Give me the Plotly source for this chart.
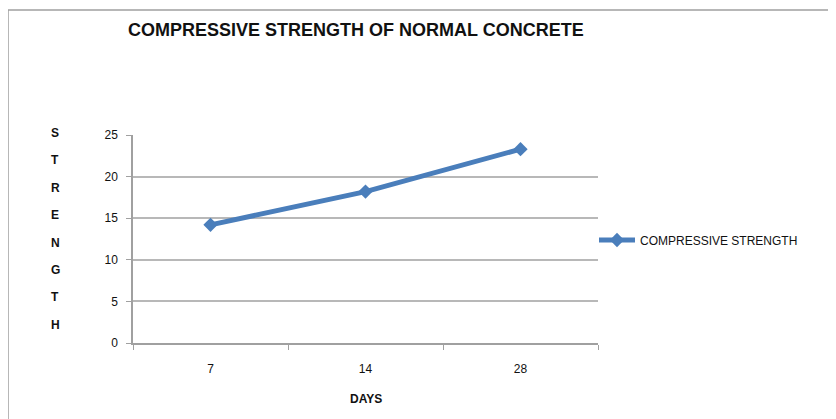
import plotly.graph_objects as go

days = ["7", "14", "28"]
strength = [14.2, 18.2, 23.3]
y_ticks = [0, 5, 10, 15, 20, 25]
series_name = "COMPRESSIVE STRENGTH"
title_text = "COMPRESSIVE STRENGTH OF NORMAL CONCRETE"
y_title = "STRENGTH"

# page body has an 8px margin, so positions below are screen px minus 8
OFF = 8
W, H = 836, 419
L, T = 133 - OFF, 135 - OFF
R, B = W - (598 - OFF), H - (343 - OFF)
pw, ph = W - L - R, H - T - B

FONT = "Liberation Sans, Arial, sans-serif"


def px_x(x):
    return (x - OFF - L) / pw


def px_y(y):
    return (H - B - (y - OFF)) / ph


fig = go.Figure()
fig.add_trace(go.Scatter(
    x=days, y=strength, name=series_name, mode="lines+markers",
    line=dict(color="#4a7ebb", width=5),
    marker=dict(symbol="diamond", size=11, color="#4a7ebb"),
))

ann = []
for i, ch in enumerate(y_title):
    ann.append(dict(
        text="<b>%s</b>" % ch, xref="paper", yref="paper",
        x=px_x(55), y=px_y(133 + i * 27.4),
        showarrow=False, xanchor="center", yanchor="middle",
        font=dict(family=FONT, size=12, color="#111"),
    ))
ann.append(dict(
    text="<b>DAYS</b>", xref="paper", yref="paper",
    x=px_x(366), y=px_y(399),
    showarrow=False, xanchor="center", yanchor="middle",
    font=dict(family=FONT, size=12, color="#111"),
))
ann.append(dict(
    text="<b>" + title_text + "</b>", xref="paper", yref="paper",
    x=px_x(356), y=px_y(30),
    showarrow=False, xanchor="center", yanchor="middle",
    font=dict(family=FONT, size=18, color="#111"),
))

fig.update_layout(
    width=W, height=H,
    margin=dict(l=L, r=R, t=T, b=B),
    paper_bgcolor="white", plot_bgcolor="white",
    showlegend=True,
    legend=dict(x=px_x(594), xanchor="left", y=px_y(240), yanchor="middle",
                font=dict(family=FONT, size=12, color="#111"),
                bgcolor="rgba(0,0,0,0)", itemwidth=36),
    annotations=ann,
    shapes=[dict(type="rect", xref="paper", yref="paper",
                 x0=px_x(8), x1=px_x(W + 30),
                 y0=px_y(H + 30), y1=px_y(10),
                 line=dict(color="#a0a0a0", width=1.5), layer="below")],
)
fig.update_xaxes(
    type="category", range=[-0.5, 2.5], tickson="boundaries",
    ticks="outside", ticklen=5, tickcolor="#a0a0a0",
    showline=True, linecolor="#a0a0a0", linewidth=1.5, showgrid=False,
    ticklabelstandoff=14,
    tickfont=dict(family=FONT, size=12, color="#111"),
)
fig.update_yaxes(
    range=[0, 25], tickvals=y_ticks, ticks="outside", ticklen=5, tickcolor="#a0a0a0",
    showline=True, linecolor="#a0a0a0", linewidth=1.5,
    showgrid=True, gridcolor="#b8b8b8", gridwidth=1.8, zeroline=False,
    ticklabelstandoff=6,
    tickfont=dict(family=FONT, size=12, color="#111"),
)

fig.write_html("out.html")
